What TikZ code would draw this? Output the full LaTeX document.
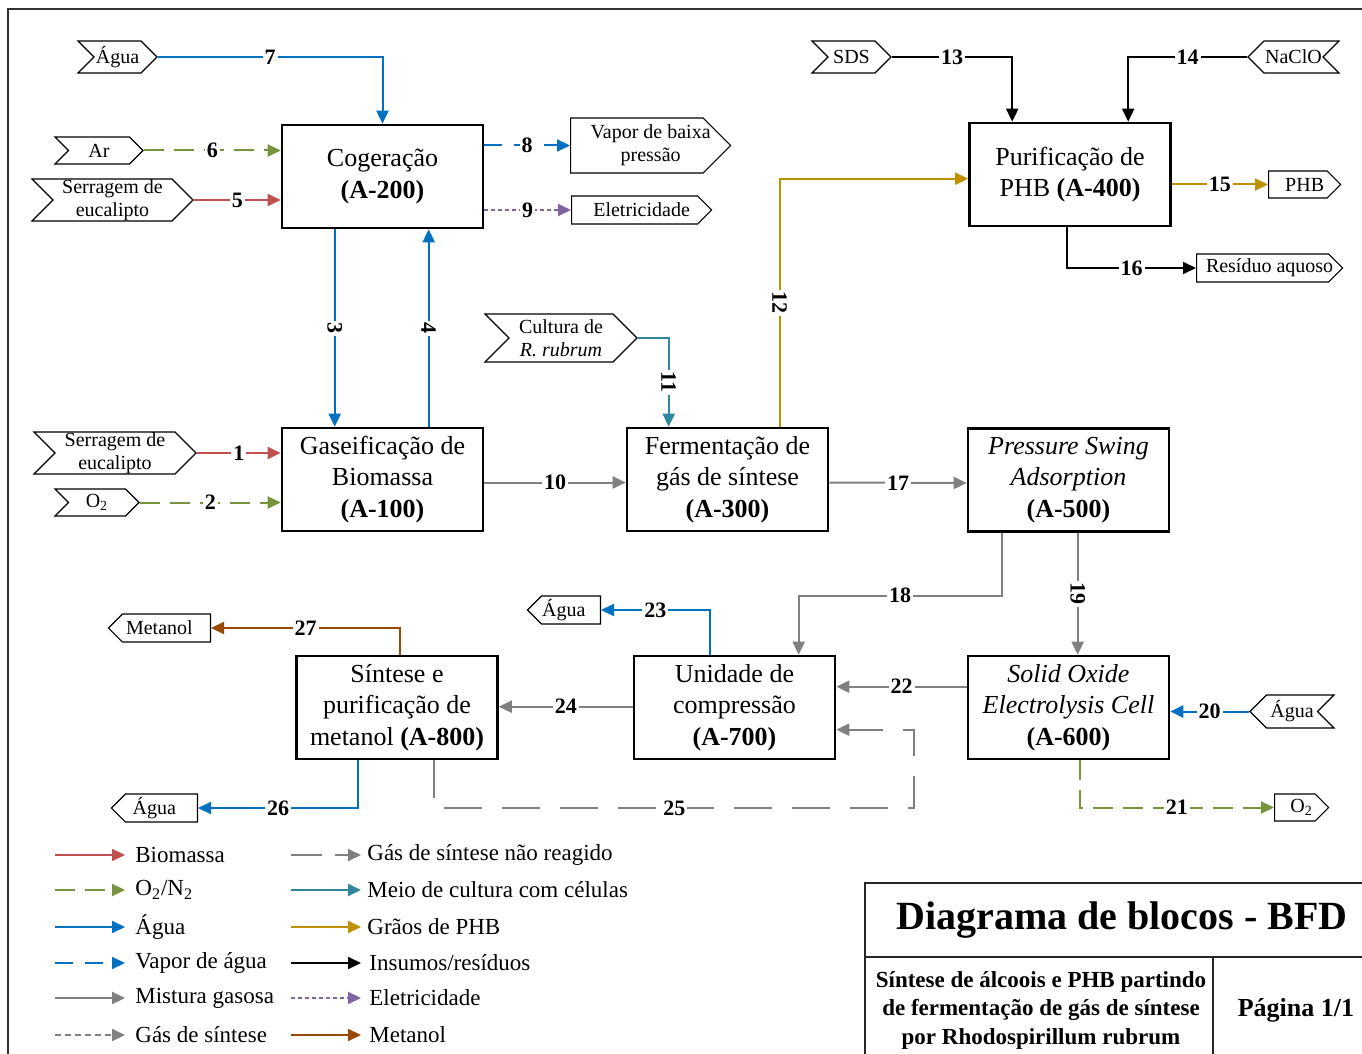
\documentclass[tikz,border=0pt]{standalone}
\usepackage{fontspec}
\setmainfont{Liberation Serif}
\usetikzlibrary{shapes.symbols,arrows.meta,calc}

\definecolor{cbio}{HTML}{C0504D}
\definecolor{cox}{HTML}{77933C}
\definecolor{cwat}{HTML}{0070C0}
\definecolor{cgas}{HTML}{808080}
\definecolor{ccul}{HTML}{31859C}
\definecolor{cphb}{HTML}{BF9000}
\definecolor{cele}{HTML}{8064A2}
\definecolor{cmet}{HTML}{984807}

\begin{document}
\begin{tikzpicture}[x=0.5pt,y=-0.5pt,
  blk/.style={draw, line width=1.3pt, minimum width=100.5pt, minimum height=51.5pt,
    inner sep=0pt, align=center, font=\fontsize{13}{15.75}\selectfont},
  tagtext/.style={align=center, inner sep=0pt, font=\fontsize{10}{11.5}\selectfont},
  ioport/.style={draw, line width=0.6pt, shape=signal, inner sep=1pt, tagtext},
  portin/.style={ioport, signal to=east, signal from=west},
  portout/.style={ioport, signal to=east, anchor=west},
  portleft/.style={ioport, signal to=west, anchor=east},
  portleftin/.style={ioport, signal to=west, signal from=east},
  num/.style={fill=white, text=black, inner sep=1pt, font=\bfseries\fontsize{11}{12}\selectfont},
  vnum/.style={num, rotate=-90},
  flow/.style={line width=1pt, -{Triangle[length=6.5pt,width=6pt]}},
  sbio/.style={flow, cbio},
  soxy/.style={flow, cox, dash pattern=on 10pt off 5pt},
  swat/.style={flow, cwat},
  svap/.style={flow, cwat, dash pattern=on 9pt off 6pt},
  smix/.style={flow, cgas},
  ssyn/.style={flow, cgas, dash pattern=on 3pt off 2pt},
  sunr/.style={flow, cgas, dash pattern=on 19pt off 10pt},
  scul/.style={flow, ccul},
  sphb/.style={flow, cphb},
  sins/.style={flow, black},
  sele/.style={flow, cele, dash pattern=on 2pt off 1.5pt},
  smet/.style={flow, cmet},
  legtext/.style={anchor=west, inner sep=0pt, font=\fontsize{11.5}{13}\selectfont},
]
\useasboundingbox (0,0) rectangle (1362,1054);

% sheet frame and title block
\draw[line width=0.8pt, black!80] (8,1080) -- (8,9) -- (1380,9);
\draw[line width=0.7pt, black!85] (1380,883) -- (865,883) -- (865,1080);
\draw[line width=0.7pt, black!85] (865,957) -- (1380,957);
\draw[line width=0.7pt, black!85] (1213,957) -- (1213,1080);
\node[font=\bfseries\fontsize{20}{24}\selectfont] (ttl) at (1122,920) {Diagrama de blocos - BFD};
\node[align=center, font=\bfseries\fontsize{11.5}{14.25}\selectfont] (sub) at (1041,1010)
  {Síntese de álcoois e PHB partindo\\de fermentação de gás de síntese\\por Rhodospirillum rubrum};
\node[font=\bfseries\fontsize{13}{15}\selectfont] (pg) at (1296,1010) {Página 1/1};

% process blocks
\node[blk] (A200) at (382.5,176.5) {Cogeração\\\textbf{(A-200)}};
\node[blk] (A100) at (382.5,479.5) {Gaseificação de\\Biomassa\\\textbf{(A-100)}};
\node[blk] (A300) at (727.5,479.5) {Fermentação de\\gás de síntese\\\textbf{(A-300)}};
\node[blk] (A400) at (1070,174.5) {Purificação de\\PHB \textbf{(A-400)}};
\node[blk] (A500) at (1068.5,480) {\textit{Pressure Swing}\\\textit{Adsorption}\\\textbf{(A-500)}};
\node[blk] (A600) at (1068.5,707.5) {\textit{Solid Oxide}\\\textit{Electrolysis Cell}\\\textbf{(A-600)}};
\node[blk] (A700) at (734.5,707.5) {Unidade de\\compressão\\\textbf{(A-700)}};
\node[blk] (A800) at (397,707.5) {Síntese e\\purificação de\\metanol \textbf{(A-800)}};

% inlet and outlet tags (one-sided tags carry their text as a centred label)
\node[portin, minimum width=39.5pt, minimum height=16pt] (agua7) at (117.5,57) {Água};
\node[portin, minimum width=44pt, minimum height=13.5pt] (ar) at (99,150.5) {Ar};
\node[portin, minimum width=80.5pt, minimum height=21pt] (serr5) at (112.5,200) {Serragem de\\eucalipto};
\node[portout, minimum width=80pt, minimum height=27.5pt,
  label={[tagtext, xshift=6.9pt]center:Vapor de baixa\\pressão}] (vapor) at (570,145.5) {};
\node[portout, minimum width=70pt, minimum height=14pt,
  label={[tagtext, xshift=3.5pt]center:Eletricidade}] (elet) at (571,210) {};
\node[portin, minimum width=39.5pt, minimum height=16pt] (sds) at (851.5,57) {SDS};
\node[portleftin, minimum width=45.5pt, minimum height=16pt] (naclo) at (1293.5,57) {NaClO};
\node[portout, minimum width=36pt, minimum height=13.5pt,
  label={[tagtext, xshift=3.4pt]center:PHB}] (phb) at (1268,184.5) {};
\node[portout, minimum width=73pt, minimum height=14pt,
  label={[tagtext, xshift=3.5pt]center:Resíduo aquoso}] (resid) at (1196,268) {};
\node[portin, minimum width=81pt, minimum height=21pt] (serr1) at (115,453) {Serragem de\\eucalipto};
\node[portin, minimum width=42pt, minimum height=13.5pt] (o2a) at (97,502.5) {O\textsubscript{2}};
\node[portin, minimum width=76pt, minimum height=24pt] (cult) at (561,338) {Cultura de\\\textit{R. rubrum}};
\node[portleftin, minimum width=42pt, minimum height=16.5pt] (agua20) at (1292,711.5) {Água};
\node[portout, minimum width=27pt, minimum height=13.5pt,
  label={[tagtext, xshift=3.4pt]center:O\textsubscript{2}}] (o2b) at (1274,807.5) {};
\node[portleft, minimum width=51pt, minimum height=14pt,
  label={[tagtext, xshift=-3.5pt]center:Metanol}] (metanol) at (211,628) {};
\node[portleft, minimum width=43pt, minimum height=14pt,
  label={[tagtext, xshift=-3.5pt]center:Água}] (agua26) at (198,808) {};
\node[portleft, minimum width=36.5pt, minimum height=14pt,
  label={[tagtext, xshift=-3.5pt]center:Água}] (agua23) at (601,610) {};

% streams around cogeneration
\draw[swat] (agua7.east) -| node[num, pos=0.25] {7} (A200.north);
\draw[soxy] (ar.east) -- node[num] {6} (A200.west |- ar.east);
\draw[sbio] (serr5.east) -- node[num] {5} (A200.west |- serr5.east);
\draw[swat] ($(A200.south west)+(54,0)$) -- node[vnum] {3} ($(A100.north west)+(54,0)$);
\draw[swat] ($(A100.north west)+(148,0)$) -- node[vnum] {4} ($(A200.south west)+(148,0)$);
\draw[svap] (vapor.west -| A200.east) -- node[num] {8} (vapor.west);
\draw[sele] (elet.west -| A200.east) -- node[num] {9} (elet.west);

% gasification and fermentation
\draw[sbio] (serr1.east) -- node[num] {1} (A100.west |- serr1.east);
\draw[soxy] (o2a.east) -- node[num] {2} (A100.west |- o2a.east);
\draw[smix] ($(A100.east)+(0,3)$) -- node[num] {10} ($(A300.west)+(0,3)$);
\draw[scul] (cult.east) -| node[vnum, pos=0.75] {11} ($(A300.north west)+(43,0)$);
\draw[sphb] ($(A300.north west)+(154,0)$) |- node[vnum, pos=0.25] {12} ($(A400.north west)+(0,57)$);

% PHB purification
\draw[sins] (sds.east) -| node[num, pos=0.25] {13} ($(A400.north west)+(44,0)$);
\draw[sins] (naclo.west) -| node[num, pos=0.25] {14} ($(A400.north west)+(160,0)$);
\draw[sphb] (phb.west -| A400.east) -- node[num] {15} (phb.west);
\draw[sins] ($(A400.south west)+(99,0)$) |- node[num, pos=0.75] {16} (resid.west);

% gas separation and electrolysis
\draw[smix] ($(A300.east)+(0,3)$) -- node[num] {17} ($(A500.west)+(0,3)$);
\draw[smix] ($(A500.south west)+(35,0)$) |- node[num, pos=0.75] {18} ($(A700.north west)+(166,-59)$)
  -- ($(A700.north west)+(166,0)$);
\draw[smix] ($(A500.south west)+(111,0)$) -- node[vnum] {19} ($(A600.north west)+(111,0)$);
\draw[swat] (agua20.west) -- node[num] {20} (A600.east |- agua20.west);
\draw[soxy] ($(A600.south west)+(113,0)$) |- node[num, pos=0.75] {21} (o2b.west);

% compression and methanol synthesis
\draw[smix] ($(A600.north west)+(0,32)$) -- node[num] {22} ($(A700.north east)+(0,32)$);
\draw[swat] ($(A700.north west)+(77,0)$) |- node[num, pos=0.75] {23} (agua23.east);
\draw[smix] ($(A700.north west)+(0,52)$) -- node[num] {24} ($(A800.north east)+(0,52)$);
\draw[sunr] ($(A800.south west)+(139,0)$) |- node[num, pos=0.75] {25} ($(A700.south east)+(78,48)$)
  |- ($(A700.north east)+(0,75)$);
\draw[swat] ($(A800.south west)+(63,0)$) |- node[num, pos=0.75] {26} (agua26.east);
\draw[smet] ($(A800.north west)+(105,0)$) |- node[num, pos=0.75] {27} (metanol.east);

% legend
\node[legtext] (lg1) at (135,855) {Biomassa};
\node[legtext] (lg2) at (135,890) {O\textsubscript{2}/N\textsubscript{2}};
\node[legtext] (lg3) at (135,927) {Água};
\node[legtext] (lg4) at (135,963) {Vapor de água};
\node[legtext] (lg5) at (135,998) {Mistura gasosa};
\node[legtext] (lg6) at (135,1035) {Gás de síntese};
\node[legtext] (lg7) at (367,855) {Gás de síntese não reagido};
\node[legtext] (lg8) at (367,890) {Meio de cultura com células};
\node[legtext] (lg9) at (367,927) {Grãos de PHB};
\node[legtext] (lg10) at (369,963) {Insumos/resíduos};
\node[legtext] (lg11) at (369,998) {Eletricidade};
\node[legtext] (lg12) at (369,1035) {Metanol};
\draw[sbio] ($(lg1.west)+(-80,0)$) -- ($(lg1.west)+(-10,0)$);
\draw[soxy] ($(lg2.west)+(-80,0)$) -- ($(lg2.west)+(-10,0)$);
\draw[swat] ($(lg3.west)+(-80,0)$) -- ($(lg3.west)+(-10,0)$);
\draw[svap] ($(lg4.west)+(-80,0)$) -- ($(lg4.west)+(-10,0)$);
\draw[smix] ($(lg5.west)+(-80,0)$) -- ($(lg5.west)+(-10,0)$);
\draw[ssyn] ($(lg6.west)+(-80,0)$) -- ($(lg6.west)+(-10,0)$);
\draw[sunr, dash pattern=on 15.5pt off 6.5pt] ($(lg7.west)+(-76,0)$) -- ($(lg7.west)+(-6,0)$);
\draw[scul] ($(lg8.west)+(-76,0)$) -- ($(lg8.west)+(-6,0)$);
\draw[sphb] ($(lg9.west)+(-76,0)$) -- ($(lg9.west)+(-6,0)$);
\draw[sins] ($(lg10.west)+(-78,0)$) -- ($(lg10.west)+(-8,0)$);
\draw[sele] ($(lg11.west)+(-78,0)$) -- ($(lg11.west)+(-8,0)$);
\draw[smet] ($(lg12.west)+(-78,0)$) -- ($(lg12.west)+(-8,0)$);
\end{tikzpicture}
\end{document}
